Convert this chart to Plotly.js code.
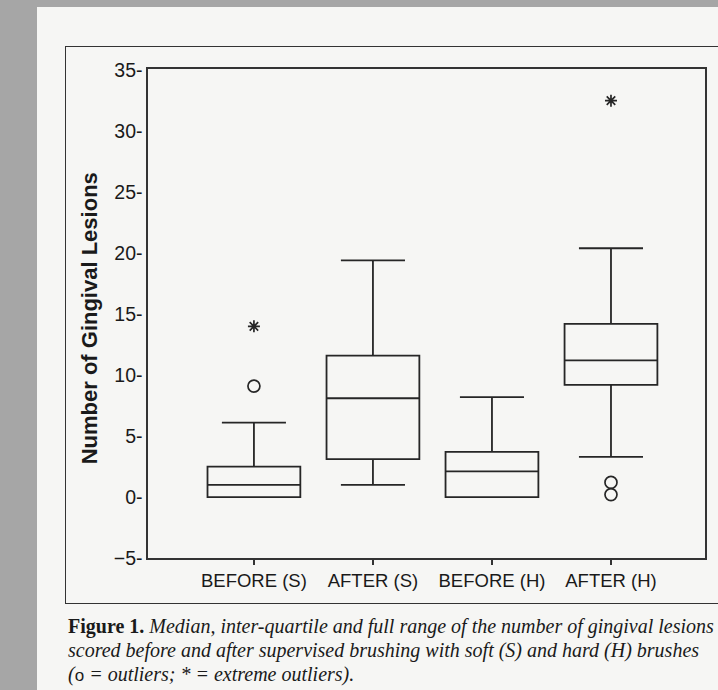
<!DOCTYPE html>
<html>
<head>
<meta charset="utf-8">
<script src="https://cdn.plot.ly/plotly-3.0.1.min.js"></script>
<style>
  html, body { margin:0; padding:0; width:718px; height:690px; overflow:hidden; background:#a6a6a6; }
  #page { position:absolute; left:37px; top:7px; width:681px; height:683px; background:#f6f6f4; }
  #frame { position:absolute; left:65px; top:46px; width:700px; height:556px; border:1.5px solid #333; border-right:none; }
  #chart { position:absolute; left:0; top:0; width:718px; height:690px; }
  #caption { position:absolute; left:68px; top:614px; width:900px; font-family:"Liberation Serif", serif; font-size:20px; line-height:24px; color:#1a1a1a; white-space:nowrap; }
  #caption b { font-style:normal; }
  #caption i { font-style:italic; }
</style>
</head>
<body>
<div id="page"></div>
<div id="frame"></div>
<div id="chart"></div>
<div id="caption">
  <b>Figure 1.</b> <i>Median, inter-quartile and full range of the number of gingival lesions</i><br>
  <i>scored before and after supervised brushing with soft (S) and hard (H) brushes</i><br>
  <i>(</i><span style="font-family:'Liberation Sans',sans-serif;font-size:17px">o</span><i> = outliers; * = extreme outliers).</i>
</div>
<script>
// Data
const categories = ['BEFORE (S)', 'AFTER (S)', 'BEFORE (H)', 'AFTER (H)'];
const lowerWhisker = [0, 1.0, 0, 3.3];
const q1Values = [0, 3.1, 0, 9.2];
const medianValues = [1.0, 8.1, 2.1, 11.2];
const q3Values = [2.5, 11.6, 3.7, 14.2];
const upperWhisker = [6.1, 19.4, 8.2, 20.4];
const outlierCats = ['BEFORE (S)', 'AFTER (H)', 'AFTER (H)'];
const outlierValues = [9.1, 1.2, 0.2];
const extremeCats = ['BEFORE (S)', 'AFTER (H)'];
const extremeValues = [14.0, 32.5];
const yTicks = [-5, 0, 5, 10, 15, 20, 25, 30, 35];

const ink = '#262626';

const traces = [
  {
    type: 'box',
    x: categories,
    q1: q1Values,
    median: medianValues,
    q3: q3Values,
    lowerfence: lowerWhisker,
    upperfence: upperWhisker,
    boxpoints: false,
    width: 0.78,
    whiskerwidth: 0.69,
    fillcolor: 'rgba(0,0,0,0)',
    line: { color: ink, width: 1.8 },
    showlegend: false,
    hoverinfo: 'skip'
  },
  {
    type: 'scatter',
    mode: 'markers',
    x: outlierCats,
    y: outlierValues,
    marker: { symbol: 'circle-open', size: 12, color: ink, line: { width: 1.7, color: ink } },
    showlegend: false
  },
  {
    type: 'scatter',
    mode: 'markers',
    x: extremeCats,
    y: extremeValues,
    marker: { symbol: 'asterisk-open', size: 10, color: ink, line: { width: 1.7, color: ink } },
    showlegend: false
  }
];

const layout = {
  width: 718,
  height: 690,
  margin: { l: 148, r: 13, t: 69, b: 132 },
  paper_bgcolor: 'rgba(0,0,0,0)',
  plot_bgcolor: 'rgba(0,0,0,0)',
  font: { family: 'Liberation Sans, Arial, sans-serif', color: '#1a1a1a' },
  xaxis: {
    type: 'category',
    categoryorder: 'array',
    categoryarray: categories,
    range: [-0.89, 3.79],
    showline: true,
    mirror: true,
    linecolor: '#333',
    linewidth: 1.6,
    ticks: 'outside',
    ticklen: 5,
    tickcolor: '#333',
    tickwidth: 1.2,
    showgrid: false,
    zeroline: false,
    tickfont: { size: 18.5, color: '#1a1a1a' }
  },
  yaxis: {
    range: [-5, 35.1],
    tickvals: yTicks,
    ticktext: yTicks.map(v => (v < 0 ? '\u2212' + Math.abs(v) : String(v)) + '-'),
    showline: true,
    mirror: true,
    linecolor: '#333',
    linewidth: 1.6,
    ticks: '',
    showgrid: false,
    zeroline: false,
    tickfont: { size: 19.5, color: '#1a1a1a' }
  },
  annotations: [
    {
      text: '<b>Number of Gingival Lesions</b>',
      xref: 'paper', yref: 'paper',
      x: -0.106, y: 0.49,
      xanchor: 'center', yanchor: 'middle',
      textangle: -90,
      showarrow: false,
      font: { size: 22, color: '#1a1a1a', family: 'Liberation Sans, Arial, sans-serif' }
    }
  ]
};

Plotly.newPlot('chart', traces, layout, { displayModeBar: false, staticPlot: true });
</script>
</body>
</html>
